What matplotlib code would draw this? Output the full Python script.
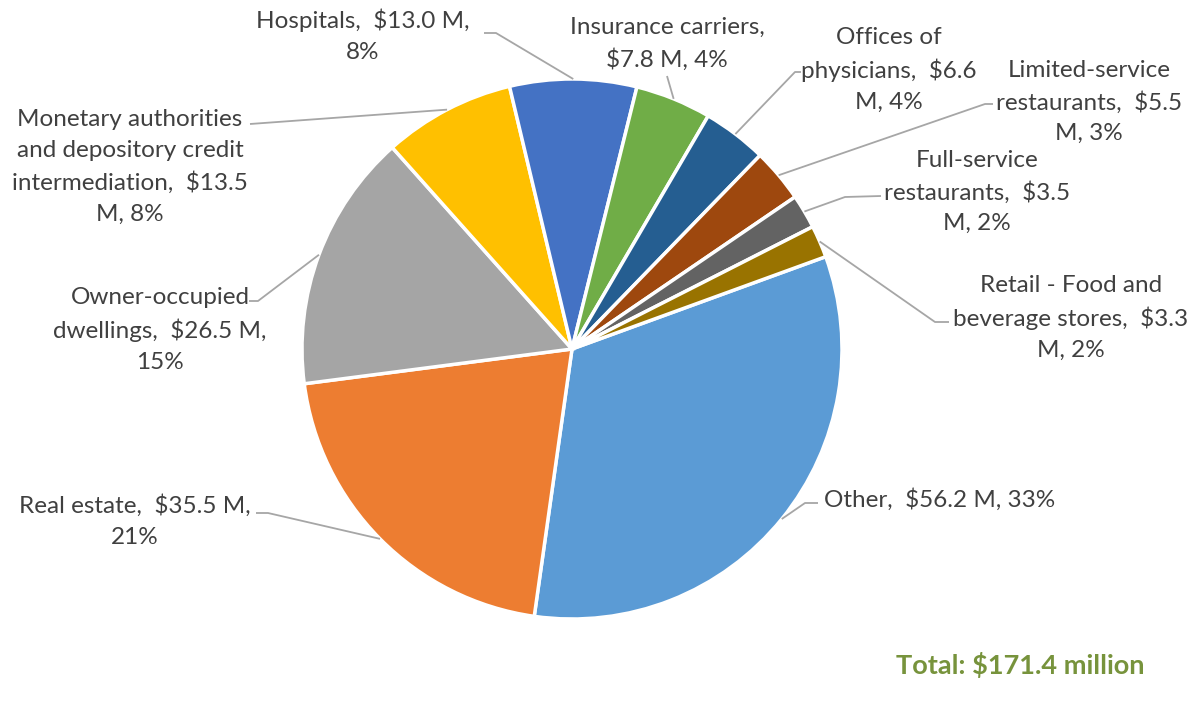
import textwrap
import numpy as np
import matplotlib.pyplot as plt

# industry output, $ millions, in drawing order (clockwise from "Other")
industries = ["Other", "Real estate", "Owner-occupied dwellings",
              "Monetary authorities and depository credit intermediation",
              "Hospitals", "Insurance carriers", "Offices of physicians",
              "Limited-service restaurants", "Full-service restaurants",
              "Retail - Food and beverage stores"]
output_m = [56.2, 35.5, 26.5, 13.5, 13.0, 7.8, 6.6, 5.5, 3.5, 3.3]
share_pct = [33, 21, 15, 8, 8, 4, 4, 3, 2, 2]
total_m = 171.4

colors = ["#5B9BD5", "#ED7D31", "#A5A5A5", "#FFC000", "#4472C4",
          "#70AD47", "#255E91", "#9E480E", "#636363", "#997300"]

W, H = 1194, 708
fig = plt.figure(figsize=(W / 100, H / 100), dpi=100)
ax = fig.add_axes([0, 0, 1, 1])

cx, cy, r = 572, H - 349, 270
wedges, _ = ax.pie(output_m, colors=colors, startangle=20, counterclock=False,
                   center=(cx, cy), radius=r,
                   wedgeprops=dict(edgecolor="white", linewidth=2.5))
ax.set_xlim(0, W)
ax.set_ylim(0, H)
ax.set_aspect("equal")
ax.axis("off")

# label placement (pixel coords from top-left): text centre, wrap width,
# and the elbow points of the leader line running back to the slice
label_layout = [
    dict(xy=(940, 500), wrap=30, elbow=[(818, 503), (805, 503)]),
    dict(xy=(135, 521), wrap=22, elbow=[(256, 513), (268, 513)]),
    dict(xy=(160, 330), wrap=20, elbow=[(249, 301), (258, 301)]),
    dict(xy=(130, 167), wrap=22, elbow=[(250, 124)]),
    dict(xy=(363, 36), wrap=20, elbow=[(484, 33), (496, 33)]),
    dict(xy=(667, 44), wrap=19, elbow=[(667, 76)]),
    dict(xy=(889, 70), wrap=17, elbow=[(801, 72), (795, 72)]),
    dict(xy=(1089, 102), wrap=18, elbow=[(993, 104), (985, 104)]),
    dict(xy=(977, 192), wrap=18, elbow=[(881, 196), (845, 197)]),
    dict(xy=(1071, 318), wrap=22, elbow=[(949, 322), (935, 322)]),
]

text_color = "#404040"
line_color = "#A6A6A6"
font = "Lato"

for w, name, val, pct, lay in zip(wedges, industries, output_m, share_pct, label_layout):
    txt = f"{name},  ${val:.1f} M, {pct}%"
    txt = textwrap.fill(txt, width=lay["wrap"], break_on_hyphens=False)
    tx, ty = lay["xy"]
    ax.text(tx, H - ty, txt, ha="center", va="center", fontsize=17.5,
            family=font, color=text_color, linespacing=1.56)

    # leader line: from the text elbow to the wedge edge at its mid angle
    mid = np.deg2rad((w.theta1 + w.theta2) / 2)
    px, py = cx + r * np.cos(mid), cy + r * np.sin(mid)
    xs = [p[0] for p in lay["elbow"]] + [px]
    ys = [H - p[1] for p in lay["elbow"]] + [py]
    ax.plot(xs, ys, color=line_color, linewidth=1.3, solid_capstyle="butt")

ax.text(1145, H - 665, f"Total: ${total_m:.1f} million", ha="right", va="center",
        fontsize=19.5, fontweight="bold", family=font, color="#77933C")

fig.savefig("out.png", dpi=100)
